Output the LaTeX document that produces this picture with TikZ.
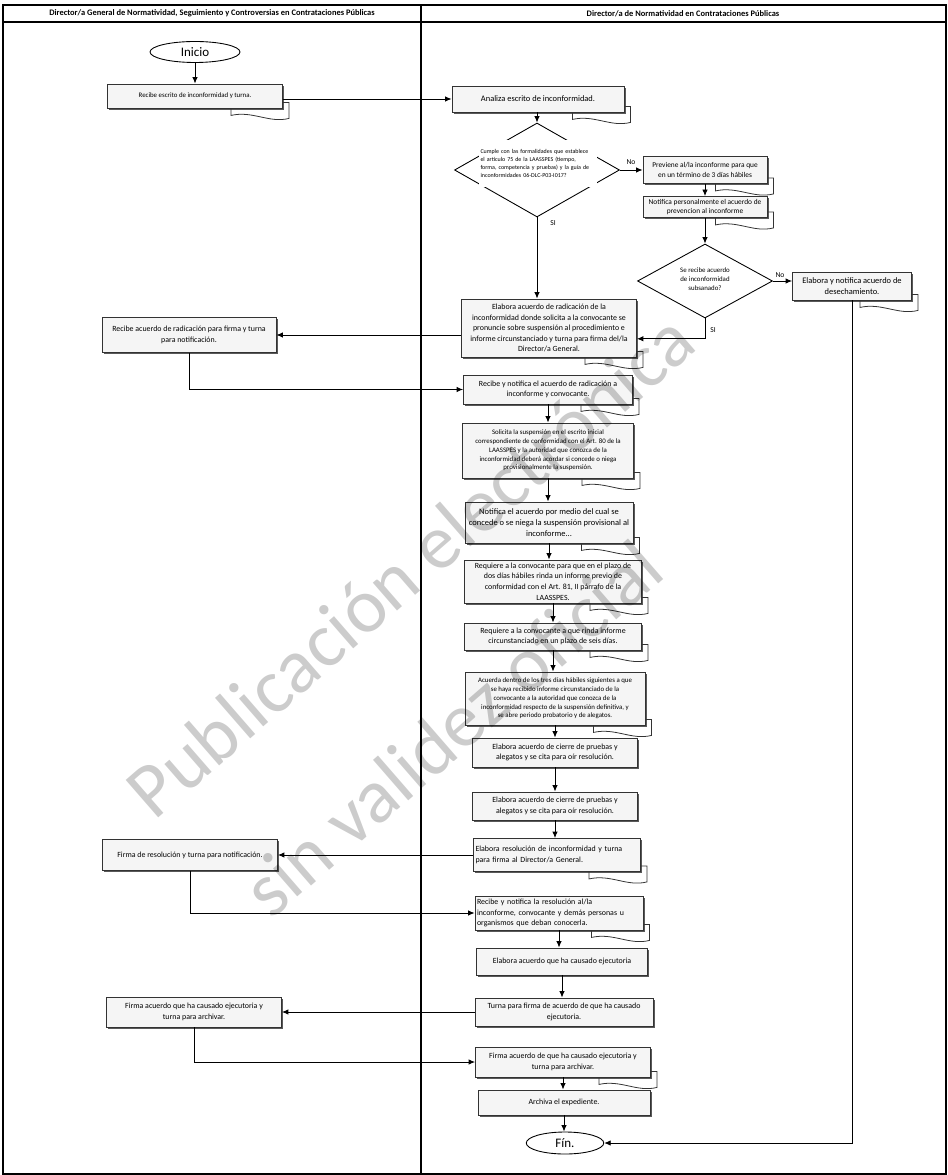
\documentclass[tikz,border=0pt]{standalone}
\usepackage{fontspec}
\setmainfont{Carlito}
\usepackage{tikz}
\usetikzlibrary{positioning,arrows.meta,shapes.geometric,shadows}
\tikzset{
  flowarrow/.style={-{Latex[length=1.3mm,width=1.1mm]}, line width=0.5pt},
  laneline/.style={line width=0.6pt},
  tailline/.style={line width=0.45pt, draw=black!80},
  procbox/.style={draw=black!80, line width=0.5pt, fill=black!4, align=center, inner sep=1pt,
    drop shadow={shadow xshift=0.9pt, shadow yshift=-0.9pt, fill=black!65, opacity=1},
    font=\fontsize{4.5}{6}\selectfont},
  smalltxt/.style={font=\fontsize{3.9}{5}\selectfont},
  bigtxt/.style={font=\fontsize{4.8}{6.4}\selectfont},
  decision/.style={draw, diamond, line width=0.5pt, inner sep=0pt},
  decisiontxt/.style={align=center, inner sep=0.5pt, font=\fontsize{3.9}{5}\selectfont},
  terminal/.style={draw, ellipse, line width=0.5pt, fill=white, inner sep=0pt, font=\fontsize{7.4}{8}\selectfont},
  branchlabel/.style={font=\fontsize{4.3}{5}\selectfont, inner sep=0.5pt},
  lanehead/.style={font=\bfseries\fontsize{4.8}{6}\selectfont},
  watermark/.style={font=\fontsize{44}{46}\selectfont, text=black, text opacity=0.2, rotate=41}
}
\newcommand{\doctail}[1]{\draw[tailline] (#1.south east) ++(0,-6) -- ++(6,0) -- ++(0,16)
  .. controls +(-20,5) and +(22,-5) .. ++(-58,-3) -- ++(0,-7);}

\begin{document}
\begin{tikzpicture}[x=0.02cm, y=-0.02cm]
\useasboundingbox (0,0) rectangle (947,1175);

% swimlanes
\draw[laneline] (3,5) rectangle (946,1174);
\draw[laneline] (3,22) -- (946,22);
\draw[laneline] (421,5) -- (421,1174);
\node[lanehead] (headgen) at (212,13.5) {Director/a General de Normatividad, Seguimiento y Controversias en Contrataciones Públicas};
\node[lanehead] (headnorm) at (683,13.5) {Director/a de Normatividad en Contrataciones Públicas};

% left lane
\node[terminal, minimum width=1.8cm, minimum height=0.42cm] (inicio) at (195,52) {Inicio};
\node[procbox, smalltxt, minimum width=3.5cm, minimum height=0.48cm] (b1) at (195,96) {Recibe escrito de inconformidad y turna.};
\node[procbox, minimum width=3.48cm, minimum height=0.7cm] (l2) at (189,335) {Recibe acuerdo de radicación para firma y turna\\ para notificación.};
\node[procbox, minimum width=3.5cm, minimum height=0.62cm] (l3) at (190,855) {Firma de resolución y turna para notificación.};
\node[procbox, minimum width=3.5cm, minimum height=0.6cm] (l4) at (194,1012) {Firma acuerdo que ha causado ejecutoria y\\ turna para archivar.};

% right lane
\node[procbox, bigtxt, minimum width=3.44cm, minimum height=0.52cm] (analiza) at (538,99) {Analiza escrito de inconformidad.};
\node[decision, minimum width=3.3cm, minimum height=1.88cm] (d1) at (537,170) {};
\node[decisiontxt, fill=white, minimum width=2.36cm, minimum height=0.94cm, text width=2.3cm, align=left,
  font=\fontsize{3.4}{4.5}\selectfont] (d1txt) at (538,163.5) {Cumple con las formalidades que establece\\ el artículo 75 de la LAASSPES (tiempo,\\ forma, competencia y pruebas) y la guía de\\ inconformidades 06-DLC-P03-I017?};
\node[branchlabel] (no1) at (631,162) {No};
\node[branchlabel] (si1) at (553,223) {SI};
\node[procbox, minimum width=2.48cm, minimum height=0.54cm, font=\fontsize{4.2}{5.6}\selectfont] (prev) at (705,170) {Previene al/la inconforme para que\\ en un término de 3 días hábiles};
\node[procbox, minimum width=2.48cm, minimum height=0.42cm, font=\fontsize{4.2}{5.6}\selectfont] (notp) at (705,207) {Notifica personalmente el acuerdo de\\ prevencion al inconforme};
\node[decision, minimum width=2.7cm, minimum height=1.48cm] (d2) at (705,281) {};
\node[decisiontxt] (d2txt) at (705,279) {Se recibe acuerdo\\ de inconformidad\\ subsanado?};
\node[branchlabel] (no2) at (780,275) {No};
\node[branchlabel] (si2) at (713,330) {SI};
\node[procbox, bigtxt, minimum width=2.38cm, minimum height=0.56cm] (desech) at (852,286) {Elabora y notifica acuerdo de\\ desechamiento.};
\node[procbox, minimum width=3.5cm, minimum height=1.16cm] (elab) at (549,328) {Elabora acuerdo de radicación de la\\ inconformidad donde solicita a la convocante se\\ pronuncie sobre suspensión al procedimiento e\\ informe circunstanciado y turna para firma del/la\\ Director/a General.};
\node[procbox, minimum width=3.38cm, minimum height=0.58cm] (recn) at (548,389.5) {Recibe y notifica el acuerdo de radicación a\\ inconforme y convocante.};
\node[procbox, smalltxt, minimum width=3.42cm, minimum height=1.1cm] (solic) at (548,450.5) {Solicita la suspensión en el escrito inicial\\ correspondiente de conformidad con el Art. 80 de la\\ LAASSPES y la autoridad que conozca de la\\ inconformidad deberá acordar si concede o niega\\ provisionalmente la suspensión.};
\node[procbox, bigtxt, minimum width=3.36cm, minimum height=0.82cm] (notac) at (549,522.5) {Notifica el acuerdo por medio del cual se\\ concede o se niega la suspensión provisional al\\ inconforme...};
\node[procbox, minimum width=3.54cm, minimum height=0.86cm] (req1) at (553,581.5) {Requiere a la convocante para que en el plazo de\\ dos días hábiles rinda un informe previo de\\ conformidad con el Art. 81, II párrafo de la\\ LAASSPES.};
\node[procbox, minimum width=3.54cm, minimum height=0.54cm] (req2) at (553,636.5) {Requiere a la convocante a que rinda informe\\ circunstanciado en un plazo de seis días.};
\node[procbox, smalltxt, minimum width=3.6cm, minimum height=1.06cm] (acu) at (555,698.5) {Acuerda dentro de los tres días hábiles siguientes a que\\ se haya recibido informe circunstanciado de la\\ convocante a la autoridad que conozca de la\\ inconformidad respecto de la suspensión definitiva, y\\ se abre periodo probatorio y de alegatos.};
\node[procbox, minimum width=3.3cm, minimum height=0.58cm] (cie1) at (555,752.5) {Elabora acuerdo de cierre de pruebas y\\ alegatos y se cita para oír resolución.};
\node[procbox, minimum width=3.3cm, minimum height=0.56cm] (cie2) at (555,806) {Elabora acuerdo de cierre de pruebas y\\ alegatos y se cita para oír resolución.};
\node[procbox, minimum width=3.34cm, minimum height=0.66cm, text width=3.26cm, align=left] (res) at (557,855) {Elabora resolución de inconformidad y turna\\ para firma al Director/a General.};
\node[procbox, minimum width=3.36cm, minimum height=0.68cm, text width=3.28cm, align=left] (recr) at (559,913) {Recibe y notifica la resolución al/la\\ inconforme, convocante y demás personas u\\ organismos que deban conocerla.};
\node[procbox, minimum width=3.42cm, minimum height=0.54cm] (eje) at (562,961.5) {Elabora acuerdo que ha causado ejecutoria};
\node[procbox, minimum width=3.56cm, minimum height=0.56cm] (turna) at (564,1012) {Turna para firma de acuerdo de que ha causado\\ ejecutoria.};
\node[procbox, minimum width=3.5cm, minimum height=0.6cm] (firma) at (563,1062) {Firma acuerdo de que ha causado ejecutoria y\\ turna para archivar.};
\node[procbox, minimum width=3.44cm, minimum height=0.5cm] (arch) at (564,1102.5) {Archiva el expediente.};
\node[terminal, minimum width=1.55cm, minimum height=0.44cm] (fin) at (565,1143) {Fín.};

\foreach \n in {b1,analiza,prev,notp,desech,elab,recn,solic,notac,req1,req2,acu,res,recr,firma}
  \doctail{\n};

% connectors
\draw[flowarrow] (inicio) -- (b1);
\draw[flowarrow] (b1.east |- analiza.west) -- (analiza.west);
\draw[flowarrow] (analiza.south -| d1.north) -- (d1.north);
\draw[flowarrow] (d1.east) -- (d1.east -| prev.west);
\draw[flowarrow] (prev) -- (notp);
\draw[flowarrow] (notp) -- (d2);
\draw[flowarrow] (d2.east) -- (d2.east -| desech.west);
\draw[flowarrow] (d1.south) -- (d1.south |- elab.north);
\draw[flowarrow] (d2.south) |- (elab.-7);
\draw[flowarrow] (elab.west |- l2.east) -- (l2.east);
\draw[flowarrow] (l2.south) |- (recn.west);
\draw[flowarrow] (recn.south) -- (recn.south |- solic.north);
\draw[flowarrow] (solic.south) -- (solic.south |- notac.north);
\draw[flowarrow] (notac.south) -- (notac.south |- req1.north);
\draw[flowarrow] (req1.south) -- (req1.south |- req2.north);
\draw[flowarrow] (req2.south) -- (req2.south |- acu.north);
\draw[flowarrow] (acu.south) -- (acu.south |- cie1.north);
\draw[flowarrow] (cie1.south) -- (cie1.south |- cie2.north);
\draw[flowarrow] (cie2.south) -- (cie2.south |- res.north);
\draw[flowarrow] (res.west) -- (res.west -| l3.east);
\draw[flowarrow] (l3.south) |- (recr.west);
\draw[flowarrow] (recr.south) -- (recr.south |- eje.north);
\draw[flowarrow] (eje.south) -- (eje.south |- turna.north);
\draw[flowarrow] (turna.west) -- (turna.west -| l4.east);
\draw[flowarrow] (l4.south) |- (firma.west);
\draw[flowarrow] (firma.south) -- (firma.south |- arch.north);
\draw[flowarrow] (arch.south) -- (arch.south |- fin.north);
\draw[flowarrow] (desech.south) |- (fin.east);

% watermark
\node[watermark] (marca1) at (410,565) {Publicación electrónica};
\node[watermark] (marca2) at (452,728) {sin validez oficial};
\end{tikzpicture}
\end{document}
